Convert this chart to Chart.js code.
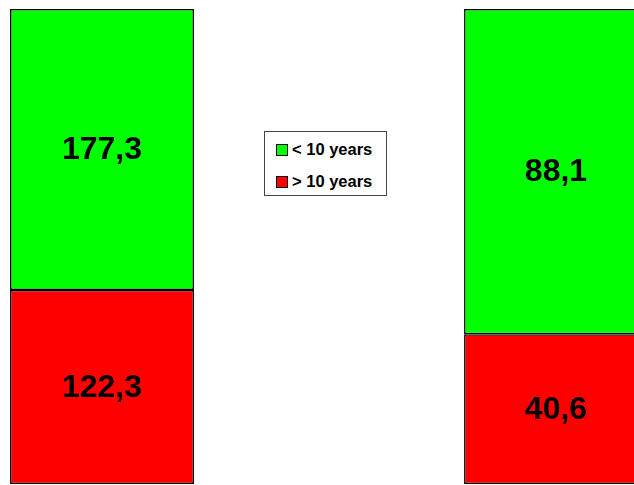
<!DOCTYPE html>
<html>
<head>
<meta charset="utf-8">
<script src="https://cdn.jsdelivr.net/npm/chart.js@4"></script>
<style>
    body { margin: 0; background: #fff; overflow: hidden; }
    #wrap { position: absolute; left: -125px; top: 0; width: 908px; height: 485px; }
    #legend {
        position: absolute; left: 264px; top: 131px; width: 121px; height: 63px;
        border: 1px solid #444; background: #fff;
        font-family: "Liberation Sans", Arial, sans-serif; font-weight: bold; font-size: 16.5px;
    }
    #legend div { position: absolute; left: 11px; height: 16px; line-height: 16px; white-space: nowrap; }
    #legend span { display: inline-block; width: 10px; height: 10px; border: 1px solid #000; margin-right: 4px; vertical-align: -1px; }
</style>
</head>
<body>
<div id="wrap"><canvas id="chart"></canvas></div>
<div id="legend"></div>
<script>
// --- DATA ---
const groups = ['A', 'B'];
const under10 = [177.3, 88.1];
const over10 = [122.3, 40.6];
const seriesNames = ['< 10 years', '> 10 years'];
const seriesColors = ['#00ff00', '#ff0000'];

// each bar is drawn as share of its own total (100% stacked)
const totals = groups.map((g, i) => under10[i] + over10[i]);
const pct = arr => arr.map((v, i) => v / totals[i] * 100);
const fmt = v => v.toFixed(1).replace('.', ',');

// --- VALUE LABELS ---
const valueLabels = {
    id: 'valueLabels',
    afterDatasetsDraw(chart) {
        const ctx = chart.ctx;
        ctx.save();
        ctx.font = 'bold 32px "Liberation Sans", Arial, sans-serif';
        ctx.fillStyle = '#000';
        ctx.textAlign = 'center';
        ctx.textBaseline = 'middle';
        chart.data.datasets.forEach((ds, di) => {
            chart.getDatasetMeta(di).data.forEach((bar, i) => {
                const p = bar.getProps(['x', 'y', 'base'], true);
                ctx.fillText(fmt(ds.raw[i]), p.x, (p.y + p.base) / 2 + 1);
            });
        });
        ctx.restore();
    }
};

const chart = new Chart(document.getElementById('chart'), {
    type: 'bar',
    data: {
        labels: groups,
        datasets: [
            { label: seriesNames[1], data: pct(over10), raw: over10, backgroundColor: seriesColors[1] },
            { label: seriesNames[0], data: pct(under10), raw: under10, backgroundColor: seriesColors[0] }
        ]
    },
    options: {
        responsive: true,
        maintainAspectRatio: false,
        animation: false,
        layout: { padding: { top: 9, bottom: 1, left: 0, right: 0 } },
        datasets: {
            bar: {
                barPercentage: 0.405,
                categoryPercentage: 1,
                borderColor: '#000',
                borderWidth: 1.5,
                borderSkipped: false
            }
        },
        scales: {
            x: { stacked: true, display: false },
            y: { stacked: true, display: false, min: 0, max: 100 }
        },
        plugins: {
            legend: { display: false },
            tooltip: { enabled: false }
        }
    },
    plugins: [valueLabels]
});

// --- LEGEND (top series first) ---
const legend = document.getElementById('legend');
chart.data.datasets.slice().reverse().forEach((ds, i) => {
    const item = document.createElement('div');
    item.style.top = (9 + i * 32) + 'px';
    item.innerHTML = `<span style="background:${ds.backgroundColor}"></span>${ds.label}`;
    legend.appendChild(item);
});
</script>
</body>
</html>
